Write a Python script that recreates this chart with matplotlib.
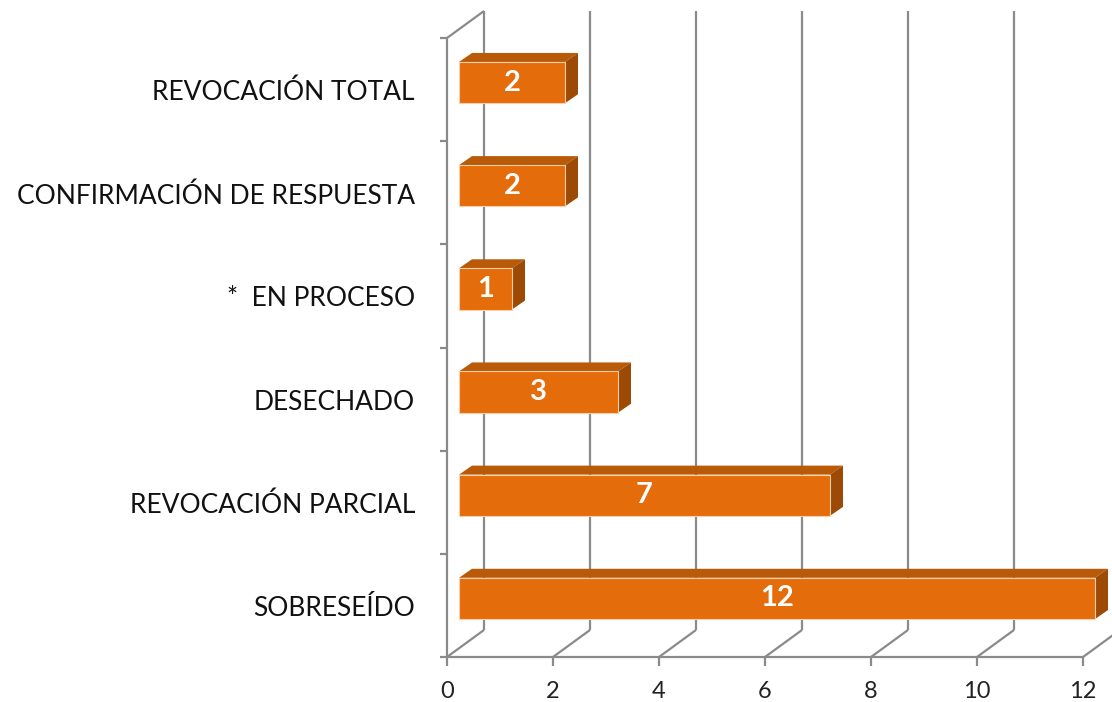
import matplotlib
matplotlib.use("Agg")
import matplotlib.pyplot as plt
from matplotlib.patches import Polygon
from matplotlib.transforms import IdentityTransform
import numpy as np

categories = ["SOBRESEÍDO", "REVOCACIÓN PARCIAL", "DESECHADO",
              "*  EN PROCESO", "CONFIRMACIÓN DE RESPUESTA", "REVOCACIÓN TOTAL"]
values = [12, 7, 3, 1, 2, 2]
xticks = [0, 2, 4, 6, 8, 10, 12]

FONT = "Lato"
GRID = "#8a8a8a"
FRONT = "#E46C0A"
TOP = "#B85A08"
SIDE = "#9C4A05"

W, H = 1112, 702
fig = plt.figure(figsize=(W / 100, H / 100), dpi=100)
ax = fig.add_axes([447 / W, 45 / H, 636 / W, 619 / H])
ax.set_xlim(0, 12)
ax.set_ylim(-0.5, 5.5)
ax.axis("off")

# depth geometry in pixels
DX, DY = 37, 27          # wall depth
BX0, BY0 = 12, 7         # bar front offset
BX1, BY1 = 25, 16        # bar back offset
HALF = 0.2               # half bar thickness (category units)


def P(x, y, dx=0, dy=0):
    px, py = ax.transData.transform((x, y))
    return (px + dx, py + dy)


def line(pts, **kw):
    xs, ys = zip(*pts)
    l = plt.Line2D(xs, ys, transform=IdentityTransform(), color=GRID,
                   lw=1.6, solid_capstyle="butt", **kw)
    fig.add_artist(l)


def poly(pts, color, z, ec="none", lw=0):
    p = Polygon(pts, closed=True, facecolor=color, edgecolor=ec, lw=lw,
                transform=IdentityTransform(), zorder=z)
    fig.add_artist(p)


ymin, ymax = -0.5, 5.5
# left wall
line([P(0, ymin), P(0, ymax)], zorder=1)
line([P(0, ymin, DX, DY), P(0, ymax, DX, DY)], zorder=1)
line([P(0, ymax), P(0, ymax, DX, DY)], zorder=1)
for b in np.arange(-0.5, 5.6, 1.0):
    line([P(0, b, -7, 0), P(0, b)], zorder=1)
# floor front line
line([P(0, ymin), P(12, ymin)], zorder=1)
for t in xticks:
    # floor diagonal
    line([P(t, ymin), P(t, ymin, DX, DY)], zorder=1)
    # back wall gridline
    if t > 0:
        line([P(t, ymin, DX, DY), P(t, ymax, DX, DY)], zorder=1)
    # tick mark
    line([P(t, ymin), P(t, ymin, 0, -9)], zorder=1)
    tx, ty = P(t, ymin, 0, -34)
    fig.text(tx / W, ty / H, str(t), ha="center", va="center", fontsize=17,
             family=FONT, color="#222222")

# bars
for i, v in enumerate(values):
    y0, y1 = i - HALF, i + HALF
    front = [P(0, y0, BX0, BY0), P(v, y0, BX0, BY0), P(v, y1, BX0, BY0), P(0, y1, BX0, BY0)]
    top = [P(0, y1, BX0, BY0), P(v, y1, BX0, BY0), P(v, y1, BX1, BY1), P(0, y1, BX1, BY1)]
    side = [P(v, y0, BX0, BY0), P(v, y0, BX1, BY1), P(v, y1, BX1, BY1), P(v, y1, BX0, BY0)]
    poly(top, TOP, 3)
    poly(side, SIDE, 3)
    poly(front, FRONT, 4, ec="#F8CFA8", lw=0.8)
    cx, cy = P(v / 2, i, BX0, BY0)
    fig.text(cx / W, cy / H, str(v), ha="center", va="center", fontsize=21,
             fontweight="bold", family=FONT, color="white", zorder=5)
    lx, ly = P(0, i, -32, -3)
    fig.text(lx / W, ly / H, categories[i], ha="right", va="center",
             fontsize=19, family=FONT, color="#111111")

fig.savefig("out.png", dpi=100)
